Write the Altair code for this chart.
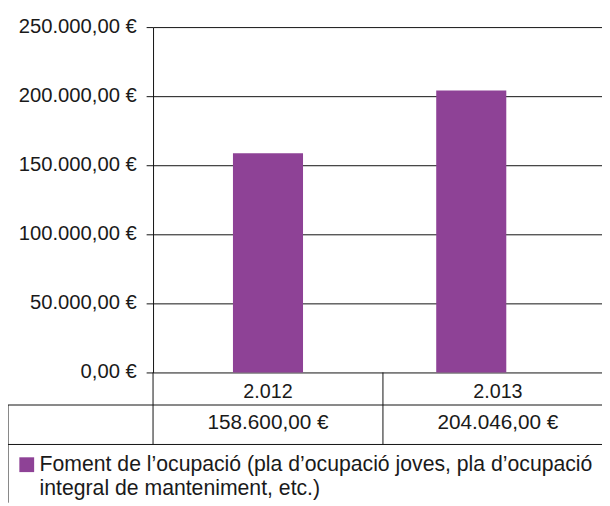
import altair as alt
import pandas as pd

# ---- data ----
years = ["2.012", "2.013"]
values = [158600.00, 204046.00]
series = "Foment de l’ocupació (pla d’ocupació joves, pla d’ocupació integral de manteniment, etc.)"
series_lines = ["Foment de l’ocupació (pla d’ocupació joves, pla d’ocupació",
                "integral de manteniment, etc.)"]
y_ticks = [0, 50000, 100000, 150000, 200000, 250000]

BAR_COLOR = "#8e4296"
TEXT_COLOR = "#1a1a1a"
LINE_COLOR = "#111111"
FONT = "Liberation Sans"

df = pd.DataFrame({"year": years, "value": values, "series": [series] * len(years)})
legend_df = pd.DataFrame({"series": [series], "text": ["\n".join(series_lines)]})
one = pd.DataFrame({"_": [0]})

euro = "replace(replace(replace(format({v}, ',.2f'), ',', '_'), '.', ','), '_', '.') + ' €'"

color = alt.Color("series:N", scale=alt.Scale(domain=[series], range=[BAR_COLOR]), legend=None)

bar_scale = alt.Scale(paddingInner=0.6553, paddingOuter=0.432, align=0.455)
table_scale = alt.Scale(range=[0, 466], paddingInner=0, paddingOuter=0)

base = alt.Chart(df)

bars = base.mark_bar().encode(
    x=alt.X("year:N", sort=years, axis=None, scale=bar_scale),
    y=alt.Y("value:Q", scale=alt.Scale(domain=[0, 250000], nice=False),
            axis=alt.Axis(values=y_ticks, title=None, labelExpr=euro.format(v="datum.value"),
                          labelFont=FONT, labelFontSize=20.5, labelColor=TEXT_COLOR,
                          labelPadding=10, tickSize=7, tickColor=LINE_COLOR,
                          domainColor=LINE_COLOR, grid=True, gridColor=LINE_COLOR,
                          gridOpacity=1, labelOffset=-1)),
    color=color,
)

cat_text = base.mark_text(font=FONT, fontSize=20, baseline="alphabetic", color=TEXT_COLOR).encode(
    x=alt.X("year:N", sort=years, axis=None, scale=table_scale),
    y=alt.value(376),
    text="year:N",
)

val_text = base.transform_calculate(label=euro.format(v="datum.value")).mark_text(
    font=FONT, fontSize=21, baseline="alphabetic", color=TEXT_COLOR).encode(
    x=alt.X("year:N", sort=years, axis=None, scale=table_scale),
    y=alt.value(407),
    text="label:N",
)

dividers = base.mark_rule(color=LINE_COLOR, strokeWidth=1).encode(
    x=alt.X("year:N", sort=years, axis=None, scale=table_scale, bandPosition=0),
    y=alt.value(350),
    y2=alt.value(423),
)

hline1 = alt.Chart(one).mark_rule(color=LINE_COLOR).encode(
    x=alt.value(-147), x2=alt.value(455), y=alt.value(383))
hline2 = alt.Chart(one).mark_rule(color=LINE_COLOR).encode(
    x=alt.value(-147), x2=alt.value(455), y=alt.value(423))
left_border = alt.Chart(one).mark_rule(color=LINE_COLOR).encode(
    x=alt.value(-147), y=alt.value(383), y2=alt.value(482))

leg_sq = alt.Chart(legend_df).mark_square(size=225, opacity=1).encode(
    x=alt.value(-128), y=alt.value(443.5), color=color)
leg_text = alt.Chart(legend_df).mark_text(
    font=FONT, fontSize=21.5, baseline="alphabetic", align="left", color=TEXT_COLOR,
    lineBreak="\n", lineHeight=24).encode(
    x=alt.value(-115), y=alt.value(450), text="text:N")

chart = alt.layer(
    bars, cat_text, val_text, dividers, hline1, hline2, left_border, leg_sq, leg_text
).resolve_scale(x="independent").properties(
    width=455, height=350,
    autosize=alt.AutoSizeParams(type="none"),
    padding={"left": 147, "top": 16, "right": 0, "bottom": 132},
).configure_view(stroke=None)

chart.save("out.html", embed_options={"renderer": "svg", "actions": False})
